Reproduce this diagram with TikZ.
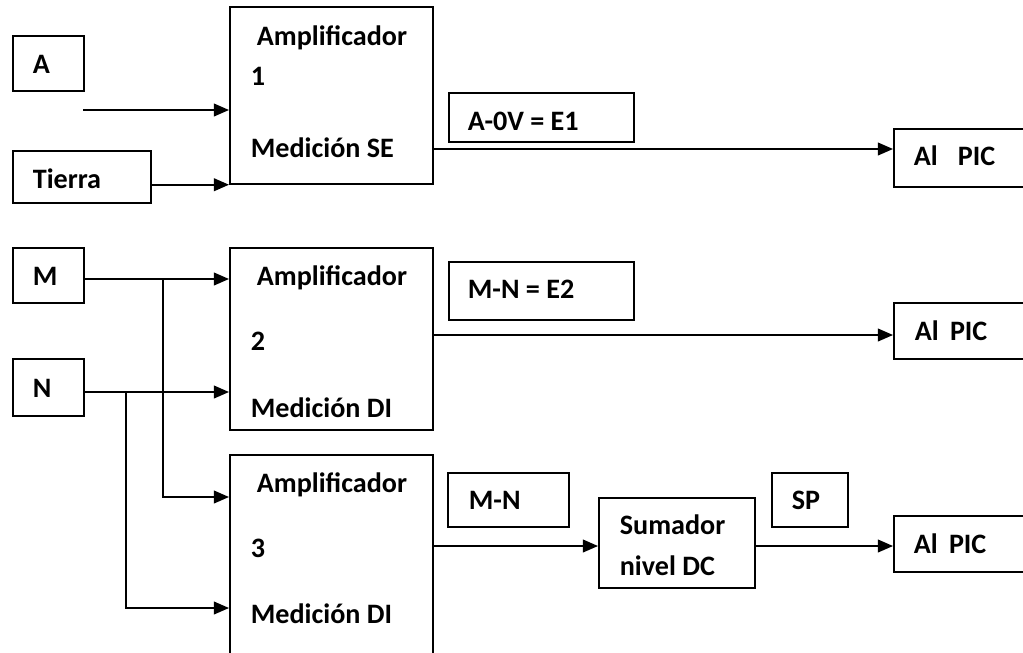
\documentclass[tikz,border=0pt]{standalone}
\usepackage{fontspec}
\setmainfont{Carlito}
\usetikzlibrary{arrows.meta}

\begin{document}
\begin{tikzpicture}[x=0.025cm,y=-0.025cm,line width=1.2pt,
  blk/.style={draw,rectangle,inner sep=0pt,anchor=north west},
  txt/.style={anchor=base west,inner sep=0pt,font=\fontsize{20}{24}\selectfont\bfseries},
  arr/.style={-{Triangle[length=0.38cm,width=0.32cm]}}]
\useasboundingbox (0,0) rectangle (1023,652);
% entradas
\node[blk,minimum width=1.775cm,minimum height=1.375cm] (boxA) at (12,35) {};
\node[blk,minimum width=3.45cm,minimum height=1.3cm] (tierra) at (12,150) {};
\node[blk,minimum width=1.775cm,minimum height=1.375cm] (boxM) at (12,247) {};
\node[blk,minimum width=1.775cm,minimum height=1.425cm] (boxN) at (12,358) {};
% amplificadores
\node[blk,minimum width=5.075cm,minimum height=4.425cm] (amp1) at (229,6) {};
\node[blk,minimum width=5.075cm,minimum height=4.55cm] (amp2) at (229,247) {};
\node[blk,minimum width=5.075cm,minimum height=5.5cm] (amp3) at (229,454) {};
% salidas
\node[blk,minimum width=4.625cm,minimum height=1.225cm] (e1) at (448,92) {};
\node[blk,minimum width=4.625cm,minimum height=1.45cm] (e2) at (448,261) {};
\node[blk,minimum width=3.025cm,minimum height=1.35cm] (mn) at (447,472) {};
\node[blk,minimum width=3.9cm,minimum height=2.25cm] (sum) at (598,497) {};
\node[blk,minimum width=1.9cm,minimum height=1.35cm] (sp) at (771,472) {};
\node[blk,minimum width=3.75cm,minimum height=1.45cm] (pic1) at (893,128) {};
\node[blk,minimum width=3.75cm,minimum height=1.4cm] (pic2) at (893,302) {};
\node[blk,minimum width=3.75cm,minimum height=1.4cm] (pic3) at (893,515) {};
% textos
\node[txt] (tA) at (32,73) {A};
\node[txt] (tTierra) at (32,188) {Tierra};
\node[txt] (tM) at (32,285) {M};
\node[txt] (tN) at (32,397) {N};
\node[txt] (tAmp1) at (256,45) {Amplificador};
\node[txt] (tUno) at (250,85) {1};
\node[txt] (tSE) at (250,157) {Medición SE};
\node[txt] (tAmp2) at (256,285) {Amplificador};
\node[txt] (tDos) at (250,350) {2};
\node[txt] (tDI2) at (250,417) {Medición DI};
\node[txt] (tAmp3) at (256,492) {Amplificador};
\node[txt] (tTres) at (250,557) {3};
\node[txt] (tDI3) at (250,623) {Medición DI};
\node[txt] (tE1) at (467,130) {A-0V = E1};
\node[txt] (tE2) at (467,298) {M-N = E2};
\node[txt] (tMN) at (468,509) {M-N};
\node[txt] (tSum) at (619,534) {Sumador};
\node[txt] (tNivel) at (619,575) {nivel DC};
\node[txt] (tSP) at (791,509) {SP};
\node[txt] (tPic1) at (913,165) {Al\hspace{0.5cm}PIC};
\node[txt] (tPic2) at (914,340) {Al\hspace{0.28cm}PIC};
\node[txt] (tPic3) at (913,553) {Al\hspace{0.28cm}PIC};
% conexiones
\coordinate (inA) at (83,110);
\coordinate (jm) at (163,279);
\coordinate (jn) at (126,392);
\draw[arr] (inA) -- (inA -| amp1.west);
\draw[arr] (tierra.east |- amp1.south) -- (amp1.south west);
\draw[arr] (boxM.east |- jm) -- (amp2.west |- jm);
\draw[arr] (boxN.east |- jn) -- (amp2.west |- jn);
\draw[arr] (jm) |- (amp3.west |- 0,497);
\draw[arr] (jn) |- (amp3.west |- 0,608);
\draw[arr] (amp1.east |- 0,149) -- (pic1.west |- 0,149);
\draw[arr] (amp2.east |- 0,335) -- (pic2.west |- 0,335);
\draw[arr] (amp3.east |- 0,546) -- (sum.west |- 0,546);
\draw[arr] (sum.east |- 0,546) -- (pic3.west |- 0,546);
\end{tikzpicture}
\end{document}
